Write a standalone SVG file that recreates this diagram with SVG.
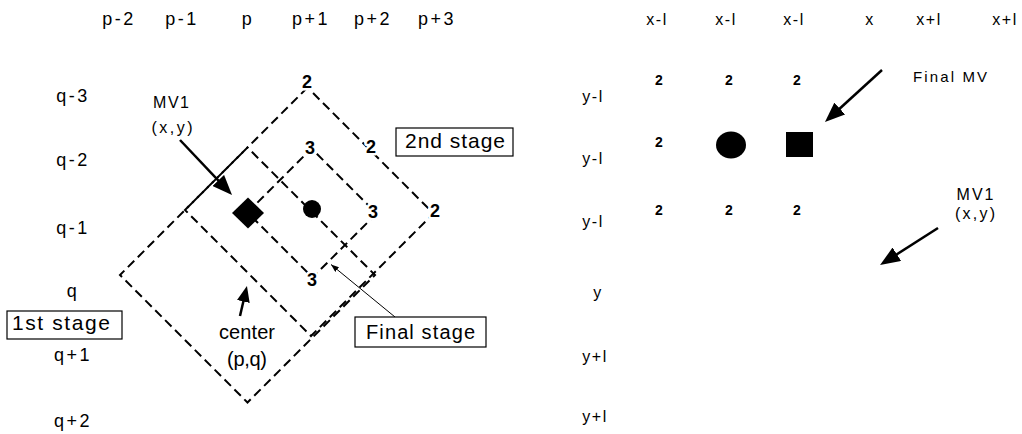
<svg xmlns="http://www.w3.org/2000/svg" width="1022" height="434" viewBox="0 0 1022 434">
  <defs>
    <style>
      .coord { font-family: "Liberation Sans", Arial, sans-serif; font-size: 18px; letter-spacing: 2.5px; text-anchor: middle; fill: #000; }
      .coordR { font-family: "Liberation Sans", Arial, sans-serif; font-size: 16px; letter-spacing: 1.5px; text-anchor: middle; fill: #000; }
      .lbl { font-family: "Liberation Sans", Arial, sans-serif; font-size: 16px; text-anchor: middle; fill: #000; }
      .stage { font-family: "Liberation Sans", Arial, sans-serif; font-size: 20px; text-anchor: middle; fill: #000; }
      .num { font-family: "Liberation Sans", Arial, sans-serif; font-size: 18px; font-weight: bold; text-anchor: middle; fill: #000;
             stroke: #fff; stroke-width: 5px; paint-order: stroke; stroke-linejoin: round; }
      .numR { font-family: "Liberation Sans", Arial, sans-serif; font-size: 14px; font-weight: bold; text-anchor: middle; fill: #000; }
      .dash { fill: none; stroke: #000; stroke-width: 2; stroke-dasharray: 9 5; }
      .arrow { fill: none; stroke: #000; stroke-width: 2.5; }
      .box { fill: #fff; stroke: #000; stroke-width: 1.2; }
    </style>
    <marker id="head" viewBox="0 0 20 16" refX="14" refY="8" markerWidth="20" markerHeight="16" orient="auto" markerUnits="userSpaceOnUse">
      <path d="M0,0 L20,8 L0,16 z" fill="#000"/>
    </marker>
    <marker id="headS" viewBox="0 0 16 13" refX="10" refY="6.5" markerWidth="16" markerHeight="13" orient="auto" markerUnits="userSpaceOnUse">
      <path d="M0,0 L16,6.5 L0,13 z" fill="#000"/>
    </marker>
    <marker id="tick" viewBox="0 0 8 6" refX="8" refY="3" markerWidth="8" markerHeight="6" orient="auto" markerUnits="userSpaceOnUse">
      <path d="M0,0 L8,3 L0,6 z" fill="#000"/>
    </marker>
  </defs>

  <rect width="1022" height="434" fill="#fff"/>

  <!-- search grid coordinates, left -->
  <g id="grid-left">
    <text class="coord" x="119" y="25">p-2</text>
    <text class="coord" x="182" y="25">p-1</text>
    <text class="coord" x="248" y="25">p</text>
    <text class="coord" x="311" y="25">p+1</text>
    <text class="coord" x="373" y="25">p+2</text>
    <text class="coord" x="437" y="25">p+3</text>
    <text class="coord" x="73" y="102">q-3</text>
    <text class="coord" x="73" y="166">q-2</text>
    <text class="coord" x="73" y="234">q-1</text>
    <text class="coord" x="73" y="297">q</text>
    <text class="coord" x="73" y="361">q+1</text>
    <text class="coord" x="73" y="427">q+2</text>
  </g>

  <!-- search windows (dashed diamonds) -->
  <g id="connectors">
    <path id="stage1-window" class="dash" style="stroke-dashoffset:7.85" d="M247.5,147.5 L120,275 L247.5,402.5 L375,275 Z"/>
    <path id="stage2-window" class="dash" d="M307.5,87.5 L185,210 L311,336 L433.5,213.5 Z"/>
    <path id="final-window" class="dash" d="M247.5,212.5 L311.5,148.5 L376.5,213.5 L312.5,277.5 Z"/>

    <!-- pointers -->
    <line class="arrow" x1="180" y1="140" x2="227.9" y2="190.6" marker-end="url(#head)"/>
    <line class="arrow" x1="240" y1="316" x2="245.6" y2="291.8" marker-end="url(#headS)"/>
    <line x1="395" y1="317" x2="331" y2="264.5" stroke="#000" stroke-width="1" marker-end="url(#tick)"/>
    <line class="arrow" x1="882" y1="70" x2="829.4" y2="118" marker-end="url(#head)"/>
    <line class="arrow" x1="938" y1="228" x2="885.1" y2="261.8" marker-end="url(#head)"/>
  </g>

  <!-- stage labels on the window corners -->
  <g id="stage2-points">
    <text class="num" x="307" y="88">2</text>
    <text class="num" x="371" y="153">2</text>
    <text class="num" x="435" y="217">2</text>
  </g>
  <g id="final-points">
    <text class="num" x="310" y="154">3</text>
    <text class="num" x="373" y="218">3</text>
    <text class="num" x="312" y="286">3</text>
  </g>

  <!-- MV1 predictor (diamond) and stage-2 best point (circle) -->
  <g id="mv1-marker">
    <path d="M248,197.5 L264,213 L248,228.5 L232,213 Z" fill="#000"/>
  </g>
  <g id="stage2-best">
    <circle cx="312" cy="209" r="9" fill="#000"/>
  </g>

  <g id="mv1-label">
    <text class="lbl" x="171" y="108" textLength="36">MV1</text>
    <text class="lbl" x="172" y="133" textLength="41">(x,y)</text>
  </g>
  <g id="center-label">
    <text class="stage" x="247" y="339" textLength="56">center</text>
    <text class="stage" x="247" y="366" textLength="40">(p,q)</text>
  </g>

  <g id="box-2nd-stage">
    <rect class="box" x="396" y="128" width="117" height="28"/>
    <text class="stage" style="font-size:21px" x="455" y="148" textLength="100">2nd stage</text>
  </g>
  <g id="box-1st-stage">
    <rect class="box" x="7" y="311" width="115" height="28"/>
    <text class="stage" style="font-size:21px" x="61" y="330" textLength="98">1st stage</text>
  </g>
  <g id="box-final-stage">
    <rect class="box" x="355" y="317" width="131" height="30"/>
    <text class="stage" x="420.5" y="339" textLength="109">Final stage</text>
  </g>

  <!-- refinement grid, right -->
  <g id="grid-right">
    <text class="coordR" x="657" y="25">x-l</text>
    <text class="coordR" x="726" y="25">x-l</text>
    <text class="coordR" x="794" y="25">x-l</text>
    <text class="coordR" x="870" y="25">x</text>
    <text class="coordR" x="929" y="25">x+l</text>
    <text class="coordR" x="1005" y="25">x+l</text>
    <text class="coordR" x="593" y="102">y-l</text>
    <text class="coordR" x="593" y="164">y-l</text>
    <text class="coordR" x="593" y="227">y-l</text>
    <text class="coordR" x="598" y="298">y</text>
    <text class="coordR" x="595" y="362">y+l</text>
    <text class="coordR" x="595" y="422">y+l</text>
  </g>

  <g id="right-points">
    <text class="numR" x="659" y="85">2</text>
    <text class="numR" x="729" y="85">2</text>
    <text class="numR" x="797" y="85">2</text>
    <text class="numR" x="659" y="147">2</text>
    <text class="numR" x="659" y="215">2</text>
    <text class="numR" x="729" y="215">2</text>
    <text class="numR" x="797" y="215">2</text>
  </g>
  <g id="right-mv1">
    <ellipse cx="731" cy="145" rx="15" ry="13.5" fill="#000"/>
  </g>
  <g id="right-final-mv">
    <rect x="786" y="132" width="27" height="25" fill="#000"/>
  </g>

  <g id="final-mv-label">
    <text class="lbl" style="font-size:15px" x="950" y="82" textLength="74">Final MV</text>
  </g>
  <g id="mv1-label-right">
    <text class="lbl" x="975" y="200" textLength="37">MV1</text>
    <text class="lbl" x="975" y="219" textLength="40">(x,y)</text>
  </g>
</svg>
